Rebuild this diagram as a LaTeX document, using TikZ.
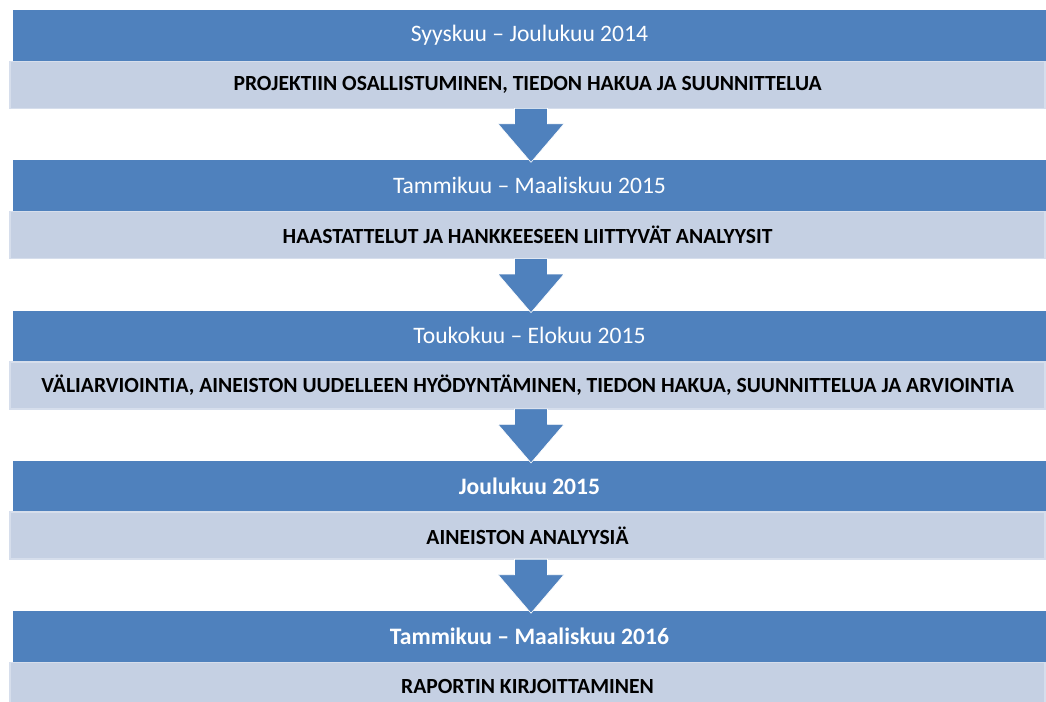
\documentclass[tikz,border=0pt]{standalone}
\usepackage{fontspec}
\setmainfont{Carlito}
\usepackage{tikz}
\usetikzlibrary{positioning}
\definecolor{barblue}{RGB}{79,129,189}
\definecolor{barlight}{RGB}{197,208,227}
\definecolor{baredge}{RGB}{214,222,236}

\begin{document}
\begin{tikzpicture}
		\tikzstyle{bluebar}=[rectangle,fill=barblue,text=white,inner sep=0pt,outer sep=0pt,minimum width=516.5pt,minimum height=25.25pt,font=\fontsize{11.8}{13}\selectfont]
		\tikzstyle{lightbar}=[rectangle,fill=barlight,draw=baredge,line width=0.8pt,text=black,inner sep=0pt,outer sep=0pt,minimum width=517.7pt,minimum height=23.5pt,font=\fontsize{10.8}{12}\selectfont\bfseries]
		\tikzstyle{blockarrow}=[fill=barblue,draw=white,line width=0.3pt]

		\useasboundingbox (0,0) rectangle (523pt,-351pt);
		\clip (0,0) rectangle (523pt,-351pt);

		\node[bluebar,anchor=north west] (b1) at (6.5pt,-5pt) {Syyskuu -- Joulukuu 2014};
		\node[lightbar,below=0.4pt of b1,xshift=-1pt] (l1) {PROJEKTIIN OSALLISTUMINEN, TIEDON HAKUA JA SUUNNITTELUA};

		\node[bluebar,below=26pt of l1,xshift=1pt] (b2) {Tammikuu -- Maaliskuu 2015};
		\node[lightbar,below=0.4pt of b2,xshift=-1pt] (l2) {HAASTATTELUT JA HANKKEESEEN LIITTYVÄT ANALYYSIT};

		\node[bluebar,below=26pt of l2,xshift=1pt] (b3) {Toukokuu -- Elokuu 2015};
		\node[lightbar,below=0.4pt of b3,xshift=-1pt] (l3) {VÄLIARVIOINTIA, AINEISTON UUDELLEEN HYÖDYNTÄMINEN, TIEDON HAKUA, SUUNNITTELUA JA ARVIOINTIA};

		\node[bluebar,below=26pt of l3,xshift=1pt,font=\fontsize{11.8}{13}\selectfont\bfseries] (b4) {Joulukuu 2015};
		\node[lightbar,below=0.4pt of b4,xshift=-1pt] (l4) {AINEISTON ANALYYSIÄ};

		\node[bluebar,below=26pt of l4,xshift=1pt,font=\fontsize{11.8}{13}\selectfont\bfseries] (b5) {Tammikuu -- Maaliskuu 2016};
		\node[lightbar,below=0.4pt of b5,xshift=-1pt] (l5) {RAPORTIN KIRJOITTAMINEN};

		% block arrows between the steps
		\foreach \i/\j in {1/2,2/3,3/4,4/5}
		{
			\draw[blockarrow] ([xshift=-6.5pt]l\i.south) -- ([xshift=10pt]l\i.south)
				-- ([xshift=10pt,yshift=-7.75pt]l\i.south) -- ([xshift=18.25pt,yshift=-7.75pt]l\i.south)
				-- ([xshift=0.75pt,yshift=-1pt]b\j.north)
				-- ([xshift=-14.75pt,yshift=-7.75pt]l\i.south) -- ([xshift=-6.5pt,yshift=-7.75pt]l\i.south) -- cycle;
		}
\end{tikzpicture}
\end{document}
